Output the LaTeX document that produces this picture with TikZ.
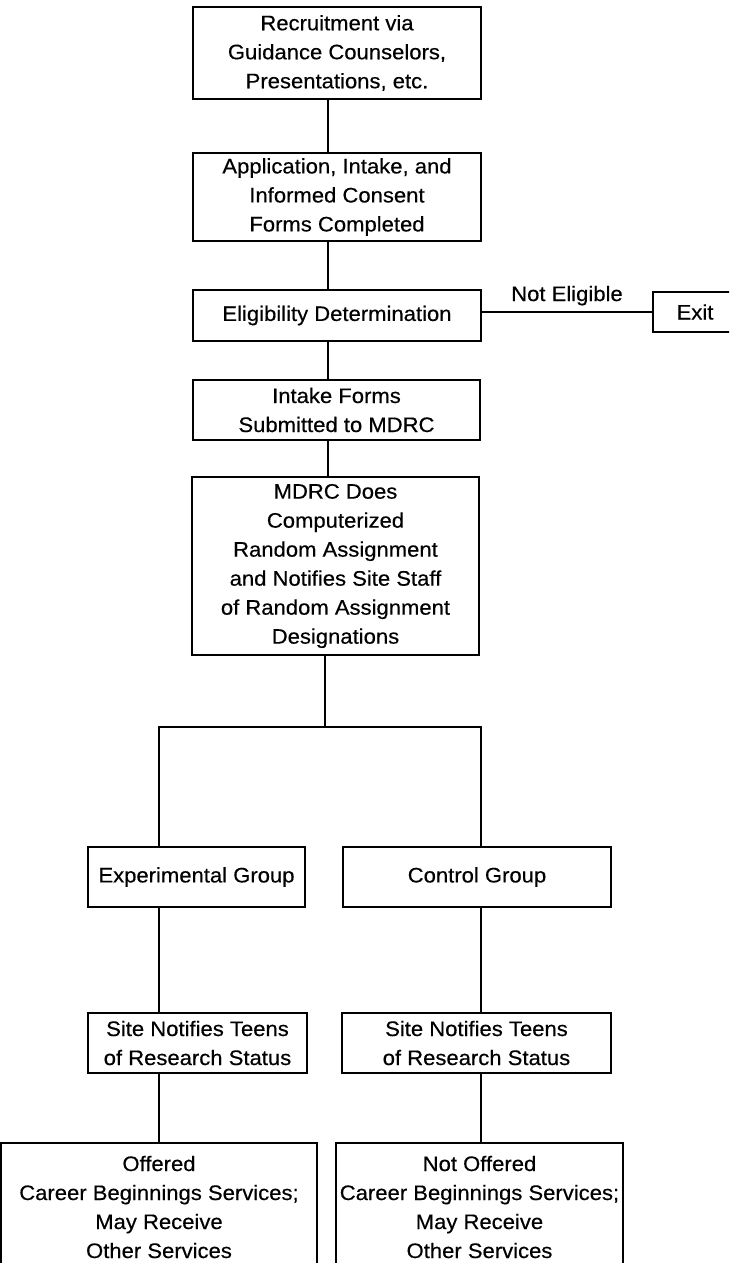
\documentclass[tikz,border=0pt]{standalone}
\usepackage{fontspec}
\setmainfont[FakeStretch=1.05,FakeBold=0.4]{Liberation Sans}
\begin{document}
\begin{tikzpicture}[x=1pt,y=-1pt,
  box/.style={draw, line width=1.2pt, align=center, inner sep=0pt,
    font=\fontsize{21}{29}\selectfont},
  conn/.style={line width=1.2pt},
  lbl/.style={font=\fontsize{21}{29}\selectfont, inner sep=0pt}]
\useasboundingbox (0,0) rectangle (729,1263);
\clip (0,0) rectangle (729,1263);
% top column
\node[box, minimum width=288pt, minimum height=92pt] (b1) at (337,53)
  {Recruitment via\\Guidance Counselors,\\Presentations, etc.};
\node[box, minimum width=288pt, minimum height=88pt] (b2) at (337,197)
  {Application, Intake, and\\Informed Consent\\Forms Completed};
\node[box, minimum width=288pt, minimum height=51pt] (b3) at (337,315.5)
  {Eligibility Determination};
\node[box, minimum width=287pt, minimum height=60pt] (b4) at (336.5,410)
  {Intake Forms\\Submitted to MDRC};
\node[box, minimum width=287pt, minimum height=178pt] (b5) at (335.5,566)
  {MDRC Does\\Computerized\\Random Assignment\\and Notifies Site Staff\\of Random Assignment\\Designations};
% exit
\node[box, minimum width=84pt, minimum height=40pt] (exit) at (695,312) {Exit};
% groups
\node[box, minimum width=217pt, minimum height=60pt] (exp) at (196.5,877) {Experimental Group};
\node[box, minimum width=268pt, minimum height=60pt] (ctl) at (477,877) {Control Group};
\node[box, minimum width=219pt, minimum height=60pt] (sl) at (197.5,1043) {Site Notifies Teens\\of Research Status};
\node[box, minimum width=269pt, minimum height=60pt] (sr) at (476.5,1043) {Site Notifies Teens\\of Research Status};
\node[box, minimum width=316pt, minimum height=128pt] (ol) at (159,1207)
  {Offered\\Career Beginnings Services;\\May Receive\\Other Services};
\node[box, minimum width=287pt, minimum height=128pt] (or) at (479.5,1207)
  {Not Offered\\Career Beginnings Services;\\May Receive\\Other Services};
% coordinates
\coordinate (spine) at (328,0);
\coordinate (spineb) at (325,0);
\coordinate (brL) at (159,727);
\coordinate (brR) at (481,727);
% connectors
\draw[conn] (b1.south -| spine) -- (b2.north -| spine);
\draw[conn] (b2.south -| spine) -- (b3.north -| spine);
\draw[conn] (b3.south -| spine) -- (b4.north -| spine);
\draw[conn] (b4.south -| spine) -- (b5.north -| spine);
\draw[conn] (b3.east |- exit.west) -- (exit.west) node[lbl, midway, above=6pt] {Not Eligible};
\draw[conn] (b5.south -| spineb) -- (spineb |- brL);
\draw[conn] (exp.north -| brL) -- (brL) -- (brR) -- (ctl.north -| brR);
\draw[conn] (exp.south -| brL) -- (sl.north -| brL);
\draw[conn] (ctl.south -| brR) -- (sr.north -| brR);
\draw[conn] (sl.south -| brL) -- (ol.north -| brL);
\draw[conn] (sr.south -| brR) -- (or.north -| brR);
\end{tikzpicture}
\end{document}
